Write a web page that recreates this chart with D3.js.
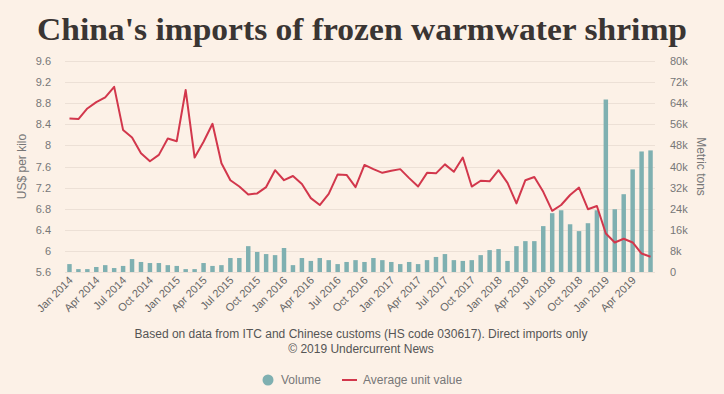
<!DOCTYPE html>
<html>
<head>
<meta charset="utf-8">
<script src="https://cdn.jsdelivr.net/npm/d3@7"></script>
<style>
  body { margin: 0; background: #fcf1e7; }
  svg { display: block; }
</style>
</head>
<body>
<script>
var w = 724;
var h = 394;

var monthNames = ["Jan", "Feb", "Mar", "Apr", "May", "Jun", "Jul", "Aug", "Sep", "Oct", "Nov", "Dec"];
var months = [];
for (var y = 2014; y <= 2019; y++) {
  for (var m = 0; m < 12; m++) {
    if (y === 2019 && m > 5) break;
    months.push(monthNames[m] + " " + y);
  }
}

// Volume, metric tons
var volume = [
  3000, 1100, 1100, 1900, 2600, 1500, 2300, 4900, 3800, 3400, 3400, 2600,
  2300, 1100, 1100, 3400, 2300, 2600, 5300, 5300, 9800, 7600, 6800, 6400,
  9100, 2600, 5300, 4200, 5300, 4500, 3000, 3800, 4500, 3800, 5300, 4500,
  3800, 3000, 3800, 3000, 4500, 5700, 6800, 4500, 4200, 4500, 6400, 8300,
  8700, 4200, 9800, 11700, 11700, 17400, 22300, 23400, 18100, 15500, 18500, 23400,
  65400, 23800, 29500, 38900, 45700, 46100
];

// Average unit value, US$ per kilo
var unitValue = [
  8.51, 8.50, 8.70, 8.82, 8.91, 9.11, 8.29, 8.15, 7.85, 7.70, 7.82, 8.13,
  8.08, 9.05, 7.77, 8.07, 8.41, 7.66, 7.34, 7.22, 7.07, 7.09, 7.21, 7.53,
  7.34, 7.42, 7.27, 7.00, 6.87, 7.08, 7.45, 7.44, 7.21, 7.63, 7.55, 7.48,
  7.52, 7.55, 7.38, 7.22, 7.48, 7.47, 7.64, 7.50, 7.77, 7.22, 7.33, 7.32,
  7.53, 7.29, 6.90, 7.34, 7.40, 7.12, 6.76, 6.87, 7.06, 7.20, 6.79, 6.85,
  6.33, 6.16, 6.23, 6.16, 5.95, 5.89
];

var leftTicks = [5.6, 6, 6.4, 6.8, 7.2, 7.6, 8, 8.4, 8.8, 9.2, 9.6];
var rightTicks = [0, 8000, 16000, 24000, 32000, 40000, 48000, 56000, 64000, 72000, 80000];

var margin = { top: 61, right: 69, bottom: 122, left: 65 };
var innerW = w - margin.left - margin.right;
var innerH = h - margin.top - margin.bottom;

var svg = d3.select("body").append("svg").attr("width", w).attr("height", h);

svg.append("rect").attr("width", w).attr("height", h).attr("fill", "#fcf1e7");

svg.append("text")
  .attr("x", 362)
  .attr("y", 40)
  .attr("text-anchor", "middle")
  .attr("font-family", "'Liberation Serif', Georgia, serif")
  .attr("font-weight", "bold")
  .attr("font-size", "32px")
  .attr("textLength", 650)
  .attr("lengthAdjust", "spacingAndGlyphs")
  .attr("fill", "#3a3533")
  .text("China's imports of frozen warmwater shrimp");

var g = svg.append("g").attr("transform", "translate(" + margin.left + "," + margin.top + ")");

var x = d3.scaleBand().domain(months).range([0, innerW]).paddingInner(0.5).paddingOuter(0.25);
var yL = d3.scaleLinear().domain([5.6, 9.6]).range([innerH, 0]);
var yR = d3.scaleLinear().domain([0, 80000]).range([innerH, 0]);

// grid
g.selectAll(".grid")
  .data(leftTicks)
  .enter()
  .append("line")
  .attr("x1", 0)
  .attr("x2", innerW)
  .attr("y1", function (d) { return Math.round(yL(d)) + 0.5; })
  .attr("y2", function (d) { return Math.round(yL(d)) + 0.5; })
  .attr("stroke", "#ece0d6")
  .attr("stroke-width", 1);

// left axis labels
g.selectAll(".ltick")
  .data(leftTicks)
  .enter()
  .append("text")
  .attr("x", -14)
  .attr("y", function (d) { return yL(d) + 4; })
  .attr("text-anchor", "end")
  .attr("font-family", "'Liberation Sans', Arial, sans-serif")
  .attr("font-size", "11px")
  .attr("fill", "#777")
  .text(function (d) { return d3.format("~g")(d); });

// right axis labels
g.selectAll(".rtick")
  .data(rightTicks)
  .enter()
  .append("text")
  .attr("x", innerW + 15)
  .attr("y", function (d) { return yR(d) + 4; })
  .attr("text-anchor", "start")
  .attr("font-family", "'Liberation Sans', Arial, sans-serif")
  .attr("font-size", "11px")
  .attr("fill", "#777")
  .text(function (d) { return d === 0 ? "0" : d / 1000 + "k"; });

// axis titles
svg.append("text")
  .attr("transform", "translate(26," + (margin.top + innerH / 2) + ") rotate(-90)")
  .attr("text-anchor", "middle")
  .attr("font-family", "'Liberation Sans', Arial, sans-serif")
  .attr("font-size", "12px")
  .attr("fill", "#777")
  .text("US$ per kilo");

svg.append("text")
  .attr("transform", "translate(697," + (margin.top + innerH / 2) + ") rotate(90)")
  .attr("text-anchor", "middle")
  .attr("font-family", "'Liberation Sans', Arial, sans-serif")
  .attr("font-size", "12px")
  .attr("fill", "#777")
  .text("Metric tons");

// bars
g.selectAll(".bar")
  .data(volume)
  .enter()
  .append("rect")
  .attr("x", function (d, i) { return x(months[i]); })
  .attr("y", function (d) { return yR(d); })
  .attr("width", x.bandwidth())
  .attr("height", function (d) { return innerH - yR(d); })
  .attr("fill", "#7fb0b1");

// line
var line = d3.line()
  .x(function (d, i) { return x(months[i]) + x.bandwidth() / 2; })
  .y(function (d) { return yL(d); });

g.append("path")
  .datum(unitValue)
  .attr("d", line)
  .attr("fill", "none")
  .attr("stroke", "#d2374c")
  .attr("stroke-width", 2)
  .attr("stroke-linejoin", "round");

// x labels
var xLabels = months.filter(function (d, i) { return i % 3 === 0; });
g.selectAll(".xlab")
  .data(xLabels)
  .enter()
  .append("text")
  .attr("transform", function (d) {
    return "translate(" + (x(d) + x.bandwidth() / 2 + 4) + "," + (innerH + 9) + ") rotate(-45)";
  })
  .attr("text-anchor", "end")
  .attr("font-family", "'Liberation Sans', Arial, sans-serif")
  .attr("font-size", "11px")
  .attr("fill", "#666")
  .text(function (d) { return d; });

// caption
svg.append("text")
  .attr("x", 361)
  .attr("y", 338)
  .attr("text-anchor", "middle")
  .attr("font-family", "'Liberation Sans', Arial, sans-serif")
  .attr("font-size", "12px")
  .attr("fill", "#555")
  .text("Based on data from ITC and Chinese customs (HS code 030617). Direct imports only");

svg.append("text")
  .attr("x", 361)
  .attr("y", 353)
  .attr("text-anchor", "middle")
  .attr("font-family", "'Liberation Sans', Arial, sans-serif")
  .attr("font-size", "12px")
  .attr("fill", "#555")
  .text("\u00a9 2019 Undercurrent News");

// legend
var legend = svg.append("g").attr("transform", "translate(0,380)");
legend.append("circle").attr("cx", 268).attr("cy", 0).attr("r", 5.5).attr("fill", "#7fb0b1");
legend.append("text")
  .attr("x", 281).attr("y", 4)
  .attr("font-family", "'Liberation Sans', Arial, sans-serif")
  .attr("font-size", "12px").attr("fill", "#777")
  .text("Volume");
legend.append("line")
  .attr("x1", 342).attr("x2", 357).attr("y1", 0).attr("y2", 0)
  .attr("stroke", "#d2374c").attr("stroke-width", 2);
legend.append("text")
  .attr("x", 363).attr("y", 4)
  .attr("font-family", "'Liberation Sans', Arial, sans-serif")
  .attr("font-size", "12px").attr("fill", "#777")
  .text("Average unit value");
</script>
</body>
</html>
